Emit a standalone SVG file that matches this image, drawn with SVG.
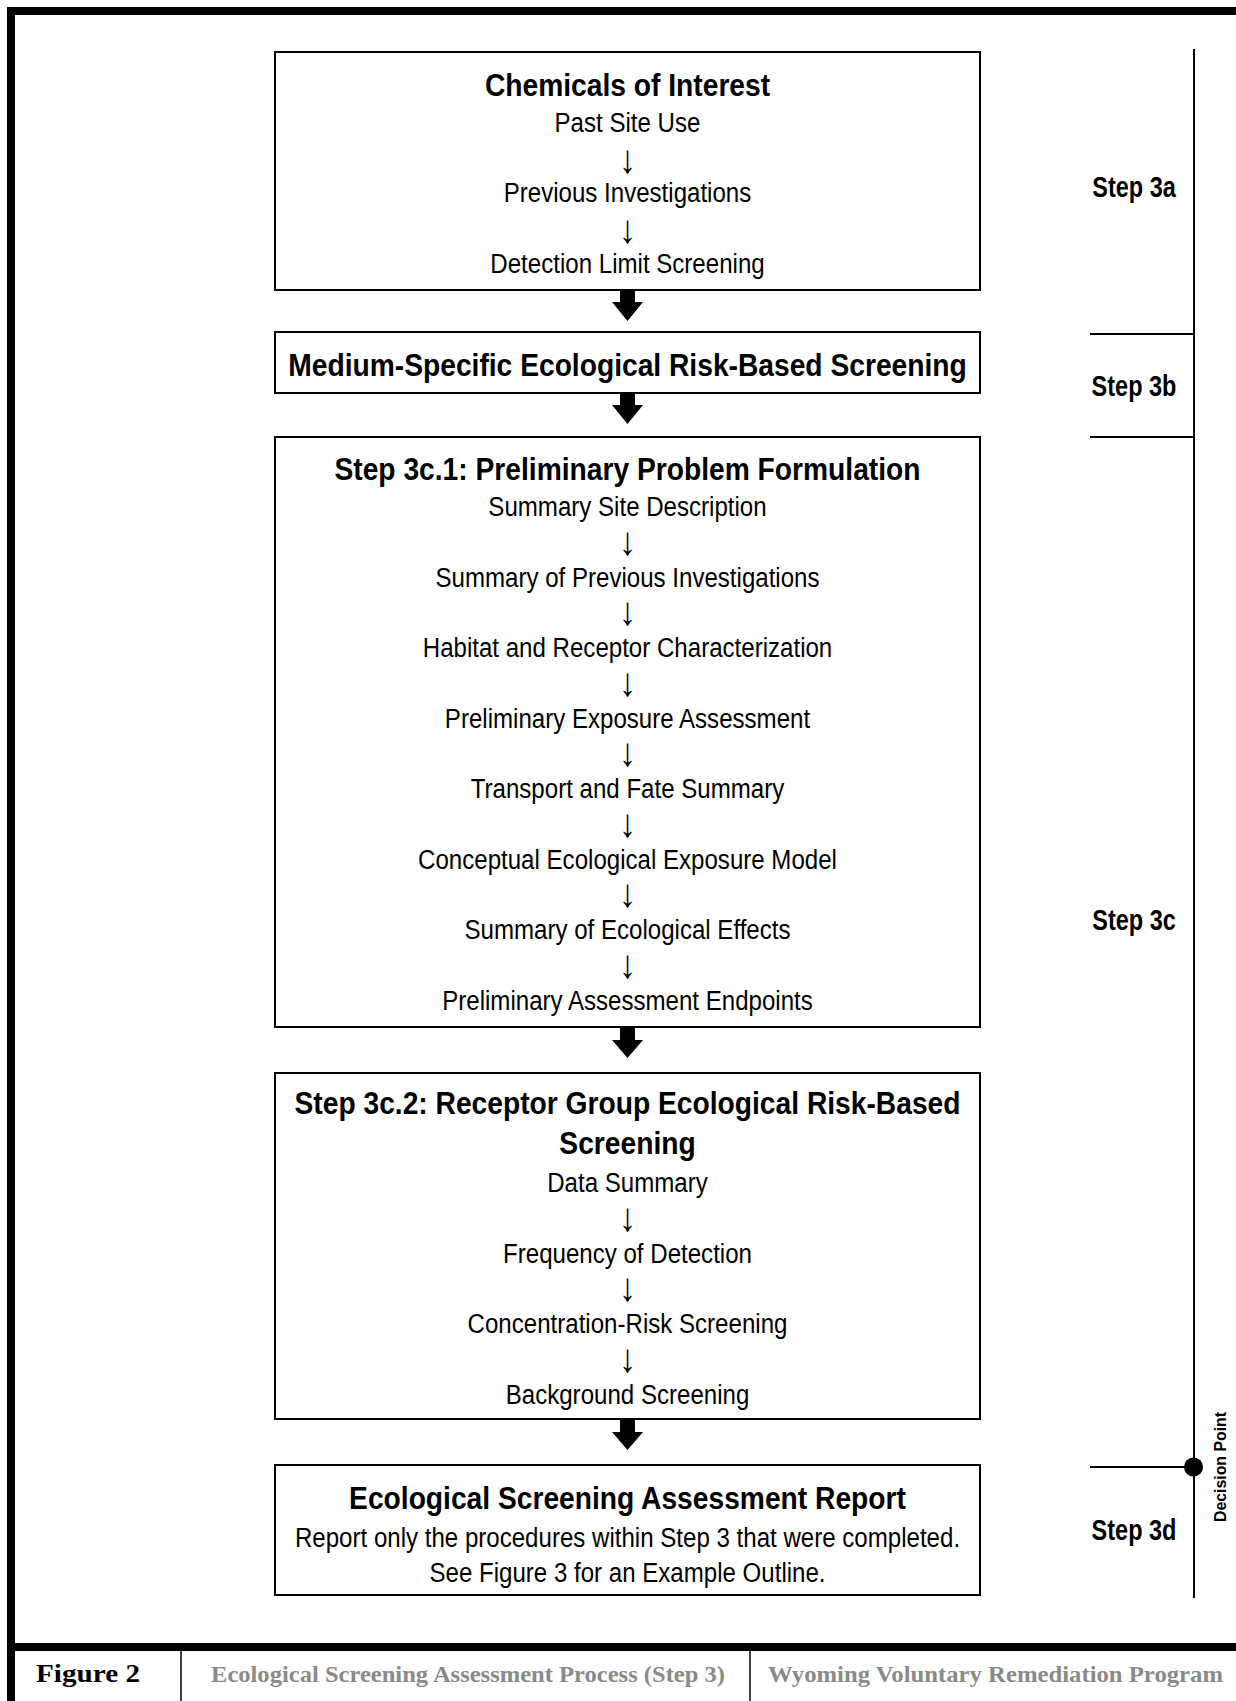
<svg xmlns="http://www.w3.org/2000/svg" width="1236" height="1701" viewBox="0 0 1236 1701">
<style>
.box{fill:#fff;stroke:#000;stroke-width:2}
.r{font-family:"Liberation Sans",Arial,sans-serif;font-size:28px;text-anchor:middle;fill:#000}
.a{font-family:"Liberation Sans",Arial,sans-serif;font-size:40px;text-anchor:middle;fill:#000}
.b{font-family:"Liberation Sans",Arial,sans-serif;font-size:31px;font-weight:bold;text-anchor:middle;fill:#000}
.st{font-family:"Liberation Sans",Arial,sans-serif;font-size:29px;font-weight:bold;text-anchor:middle;fill:#000}
.dp{font-family:"Liberation Sans",Arial,sans-serif;font-size:17px;font-weight:bold;text-anchor:middle;fill:#000}
.ln{stroke:#000;stroke-width:2;fill:none}
.ft{font-family:"Liberation Serif","Times New Roman",serif;font-size:24px;font-weight:bold;fill:#8a8a8a}
.fb{font-family:"Liberation Serif","Times New Roman",serif;font-size:26px;font-weight:bold;fill:#000}
</style>
<rect width="1236" height="1701" fill="#fff"/>
<g id="frame">
<rect x="7" y="7" width="1229" height="8" fill="#000"/>
<rect x="7" y="7" width="8" height="1694" fill="#000"/>
<rect x="7" y="1643" width="1229" height="8" fill="#000"/>
<line x1="181" y1="1651" x2="181" y2="1701" stroke="#000" stroke-width="1.5"/>
<line x1="750" y1="1651" x2="750" y2="1701" stroke="#000" stroke-width="1.5"/>
</g>
<g id="footer">
<text class="fb" x="36" y="1682" textLength="104" lengthAdjust="spacingAndGlyphs">Figure 2</text>
<text class="ft" x="211" y="1682" textLength="514" lengthAdjust="spacingAndGlyphs">Ecological Screening Assessment Process (Step 3)</text>
<text class="ft" x="768" y="1682" textLength="455" lengthAdjust="spacingAndGlyphs">Wyoming Voluntary Remediation Program</text>
</g>
<g id="connectors">
<path d="M620 291H635V302H643L627.5 321L612 302H620Z" fill="#000"/>
<path d="M620 393H635V405H643L627.5 424L612 405H620Z" fill="#000"/>
<path d="M620 1028H635V1040H643L627.5 1058L612 1040H620Z" fill="#000"/>
<path d="M620 1420H635V1432H643L627.5 1450L612 1432H620Z" fill="#000"/>
</g>
<g id="n1">
<rect class="box" x="275" y="52" width="705" height="238"/>
<g transform="translate(627.5 0) scale(0.91 1)"><text class="b" y="96">Chemicals of Interest</text></g>
<g transform="translate(627.5 0) scale(0.86 1)">
<text class="r" y="132">Past Site Use</text>
<text class="a" y="173">↓</text>
<text class="r" y="202.5">Previous Investigations</text>
<text class="a" y="243">↓</text>
<text class="r" y="273.5">Detection Limit Screening</text>
</g>
</g>
<g id="n2">
<rect class="box" x="275" y="332" width="705" height="61"/>
<g transform="translate(627.5 0) scale(0.91 1)"><text class="b" y="376">Medium-Specific Ecological Risk-Based Screening</text></g>
</g>
<g id="n3">
<rect class="box" x="275" y="437" width="705" height="590"/>
<g transform="translate(627.5 0) scale(0.91 1)"><text class="b" y="480">Step 3c.1: Preliminary Problem Formulation</text></g>
<g transform="translate(627.5 0) scale(0.86 1)">
<text class="r" y="516">Summary Site Description</text>
<text class="a" y="555">↓</text>
<text class="r" y="587">Summary of Previous Investigations</text>
<text class="a" y="625">↓</text>
<text class="r" y="657">Habitat and Receptor Characterization</text>
<text class="a" y="696">↓</text>
<text class="r" y="728">Preliminary Exposure Assessment</text>
<text class="a" y="766">↓</text>
<text class="r" y="798.5">Transport and Fate Summary</text>
<text class="a" y="837">↓</text>
<text class="r" y="869">Conceptual Ecological Exposure Model</text>
<text class="a" y="907">↓</text>
<text class="r" y="939.5">Summary of Ecological Effects</text>
<text class="a" y="978">↓</text>
<text class="r" y="1010">Preliminary Assessment Endpoints</text>
</g>
</g>
<g id="n4">
<rect class="box" x="275" y="1073" width="705" height="346"/>
<g transform="translate(627.5 0) scale(0.91 1)">
<text class="b" y="1114">Step 3c.2: Receptor Group Ecological Risk-Based</text>
<text class="b" y="1154">Screening</text>
</g>
<g transform="translate(627.5 0) scale(0.86 1)">
<text class="r" y="1192">Data Summary</text>
<text class="a" y="1231">↓</text>
<text class="r" y="1263">Frequency of Detection</text>
<text class="a" y="1301">↓</text>
<text class="r" y="1333.5">Concentration-Risk Screening</text>
<text class="a" y="1372">↓</text>
<text class="r" y="1404">Background Screening</text>
</g>
</g>
<g id="n5">
<rect class="box" x="275" y="1465" width="705" height="130"/>
<g transform="translate(627.5 0) scale(0.91 1)"><text class="b" y="1509">Ecological Screening Assessment Report</text></g>
<g transform="translate(627.5 0) scale(0.86 1)">
<text class="r" y="1547">Report only the procedures within Step 3 that were completed.</text>
<text class="r" y="1582">See Figure 3 for an Example Outline.</text>
</g>
</g>
<g id="steps">
<line class="ln" x1="1194" y1="49" x2="1194" y2="1598"/>
<line class="ln" x1="1090" y1="334" x2="1194" y2="334"/>
<line class="ln" x1="1090" y1="437" x2="1194" y2="437"/>
<line class="ln" x1="1090" y1="1467" x2="1194" y2="1467"/>
<circle cx="1193.5" cy="1467" r="9.5" fill="#000"/>
<g transform="translate(1134 0) scale(0.81 1)">
<text class="st" y="197">Step 3a</text>
<text class="st" y="396">Step 3b</text>
<text class="st" y="930">Step 3c</text>
<text class="st" y="1540">Step 3d</text>
</g>
<text class="dp" transform="translate(1226 1467) rotate(-90)" textLength="110" lengthAdjust="spacingAndGlyphs">Decision Point</text>
</g>
</svg>
